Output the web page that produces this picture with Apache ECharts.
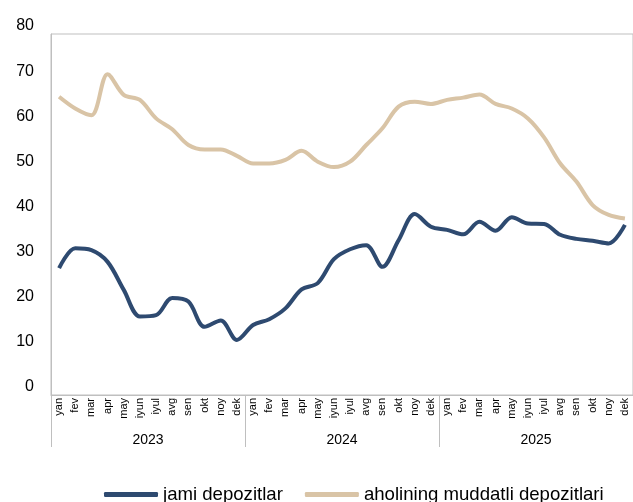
<!DOCTYPE html>
<html>
<head>
<meta charset="utf-8">
<script src="https://cdn.jsdelivr.net/npm/echarts@6/dist/echarts.min.js"></script>
<style>
html,body{margin:0;padding:0;background:#fff;}
#chart{width:633px;height:502px;}
</style>
</head>
<body>
<div id="chart"></div>
<script>
const months = ['yan','fev','mar','apr','may','iyun','iyul','avg','sen','okt','noy','dek'];
const years = ['2023','2024','2025'];
const seriesNames = ['jami depozitlar','aholining muddatli depozitlari'];
const jamiDepozitlar = [
  28.1, 32.5, 32.1, 29.5, 23.3, 17.4, 17.7, 21.5, 20.7, 15.1, 16.5, 12.2,
  15.5, 16.8, 19.2, 23.4, 24.8, 30.1, 32.3, 33.2, 28.4, 34.3, 40.1, 37.3,
  36.6, 35.6, 38.4, 36.4, 39.4, 38.0, 37.9, 35.5, 34.6, 34.2, 33.6, 37.7
];
const aholiningMuddatli = [
  66.1, 63.5, 62.0, 71.1, 66.5, 65.4, 61.3, 58.9, 55.4, 54.4, 54.4, 53.0,
  51.3, 51.3, 52.1, 54.1, 51.7, 50.5, 51.7, 55.4, 59.1, 63.9, 65.0, 64.5,
  65.4, 65.9, 66.6, 64.5, 63.5, 61.3, 57.1, 51.3, 47.3, 42.1, 39.9, 39.1
];
const yTicks = {min: 0, max: 80, interval: 10};

const monthCats = [];
years.forEach(y => months.forEach(m => monthCats.push(m + ' ' + y)));

const chart = echarts.init(document.getElementById('chart'));
const font = 'Liberation Sans, Arial, sans-serif';
const gray = '#BFBFBF';
chart.setOption({
  animation: false,
  backgroundColor: '#ffffff',
  grid: {left: 51, top: 34, width: 585, height: 361, show: true, borderColor: gray, borderWidth: 1, containLabel: false},
  legend: {
    left: 99, top: 480,
    itemWidth: 54, itemHeight: 5, itemGap: 22,
    icon: 'roundRect',
    textStyle: {fontFamily: font, fontSize: 18.6, color: '#000'},
    data: seriesNames
  },
  xAxis: [
    {
      type: 'category', data: monthCats, position: 'bottom',
      axisLine: {show: true, lineStyle: {color: gray, width: 1}},
      axisTick: {show: false},
      axisLabel: {
        interval: 0, rotate: 90, margin: 3,
        fontFamily: font, fontSize: 11, color: '#000',
        formatter: v => v.split(' ')[0]
      },
      splitLine: {show: false}
    },
    {
      type: 'category', data: years, position: 'bottom',
      axisLine: {show: false},
      axisTick: {show: true, length: 52, lineStyle: {color: gray, width: 1}},
      axisLabel: {margin: 38, fontFamily: font, fontSize: 14, color: '#000'},
      splitLine: {show: false}
    }
  ],
  yAxis: {
    type: 'value', min: yTicks.min, max: yTicks.max, interval: yTicks.interval,
    axisLine: {show: true, lineStyle: {color: gray, width: 1}},
    axisTick: {show: false},
    splitLine: {show: false},
    axisLabel: {margin: 17, fontFamily: font, fontSize: 16, color: '#000', verticalAlign: 'bottom', lineHeight: 16}
  },
  series: [
    {
      name: seriesNames[0], type: 'line', data: jamiDepozitlar,
      smooth: 0.33, symbol: 'none',
      lineStyle: {color: '#2E4A70', width: 4},
      itemStyle: {color: '#2E4A70'}
    },
    {
      name: seriesNames[1], type: 'line', data: aholiningMuddatli,
      smooth: 0.33, symbol: 'none',
      lineStyle: {color: '#D9C4A6', width: 4},
      itemStyle: {color: '#D9C4A6'}
    }
  ]
});
</script>
</body>
</html>
